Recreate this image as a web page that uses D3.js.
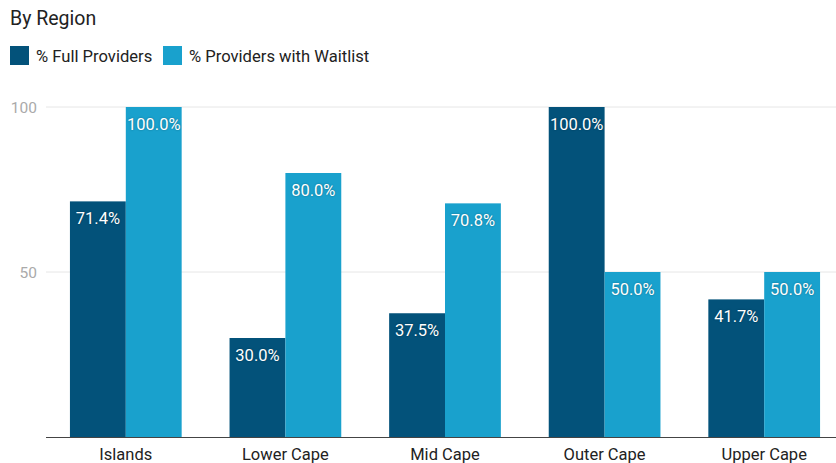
<!DOCTYPE html>
<html><head><meta charset="utf-8">
<script src="https://cdn.jsdelivr.net/npm/d3@7"></script>
<style>
body{margin:0;background:#fff;}
svg{display:block;font-family:Roboto, sans-serif;}
</style></head>
<body><svg id="c" width="836" height="463"></svg>
<script>
const categories = ["Islands","Lower Cape","Mid Cape","Outer Cape","Upper Cape"];
const seriesNames = ["% Full Providers","% Providers with Waitlist"];
const fullProviders = [71.4, 30.0, 37.5, 100.0, 41.7];
const waitlistProviders = [100.0, 80.0, 70.8, 50.0, 50.0];
const yTicks = [50, 100];
const colors = ["#03527a","#19a1cd"];

const svg = d3.select("#c");
const x0 = d3.scaleBand().domain(categories).range([46, 844]).paddingInner(0.3).paddingOuter(0.15);
const x1 = d3.scaleBand().domain(seriesNames).range([0, x0.bandwidth()]);
const y = d3.scaleLinear().domain([0, 100]).range([437, 107]);

svg.append("text").attr("x",10).attr("y",25).attr("font-size",19.5).attr("fill","#222").text("By Region");

// legend
const lg = svg.append("g");
const legX = [10, 163];
seriesNames.forEach((s,i)=>{
  lg.append("rect").attr("x",legX[i]).attr("y",46).attr("width",19).attr("height",19).attr("fill",colors[i]);
  lg.append("text").attr("x",legX[i]+26).attr("y",61.5).attr("font-size",16.6).attr("fill","#222").text(s);
});

// gridlines
const grid = svg.append("g");
yTicks.forEach(t=>{
  grid.append("line").attr("x1",46).attr("x2",836).attr("y1",y(t)).attr("y2",y(t)).attr("stroke","#e6e6e6").attr("stroke-width",1);
  grid.append("text").attr("x",37).attr("y",y(t)+5.5).attr("text-anchor","end").attr("font-size",15.5).attr("fill","#aaa").text(t);
});

const data = categories.map((c,i)=>({c, vals:[fullProviders[i], waitlistProviders[i]]}));
const groups = svg.append("g").selectAll("g").data(data).join("g").attr("transform",d=>`translate(${x0(d.c)},0)`);
groups.selectAll("rect").data(d=>d.vals.map((v,i)=>({v,i}))).join("rect")
  .attr("x",d=>x1(seriesNames[d.i])).attr("width",x1.bandwidth())
  .attr("y",d=>y(d.v)).attr("height",d=>y(0)-y(d.v)).attr("fill",d=>colors[d.i]);
groups.selectAll("text").data(d=>d.vals.map((v,i)=>({v,i}))).join("text")
  .attr("x",d=>x1(seriesNames[d.i])+x1.bandwidth()/2).attr("y",d=>y(d.v)+23)
  .attr("text-anchor","middle").attr("font-size",16.5).attr("fill","#fff")
  .style("text-shadow","0 0 2px rgba(0,0,0,0.35)")
  .text(d=>d.v.toFixed(1)+"%");

// x axis
svg.append("line").attr("x1",46).attr("x2",836).attr("y1",437.5).attr("y2",437.5).attr("stroke","#444").attr("stroke-width",1.2);
svg.append("g").selectAll("text").data(categories).join("text")
  .attr("x",d=>x0(d)+x0.bandwidth()/2).attr("y",460).attr("text-anchor","middle")
  .attr("font-size",16.5).attr("fill","#222").text(d=>d);
</script></body></html>
